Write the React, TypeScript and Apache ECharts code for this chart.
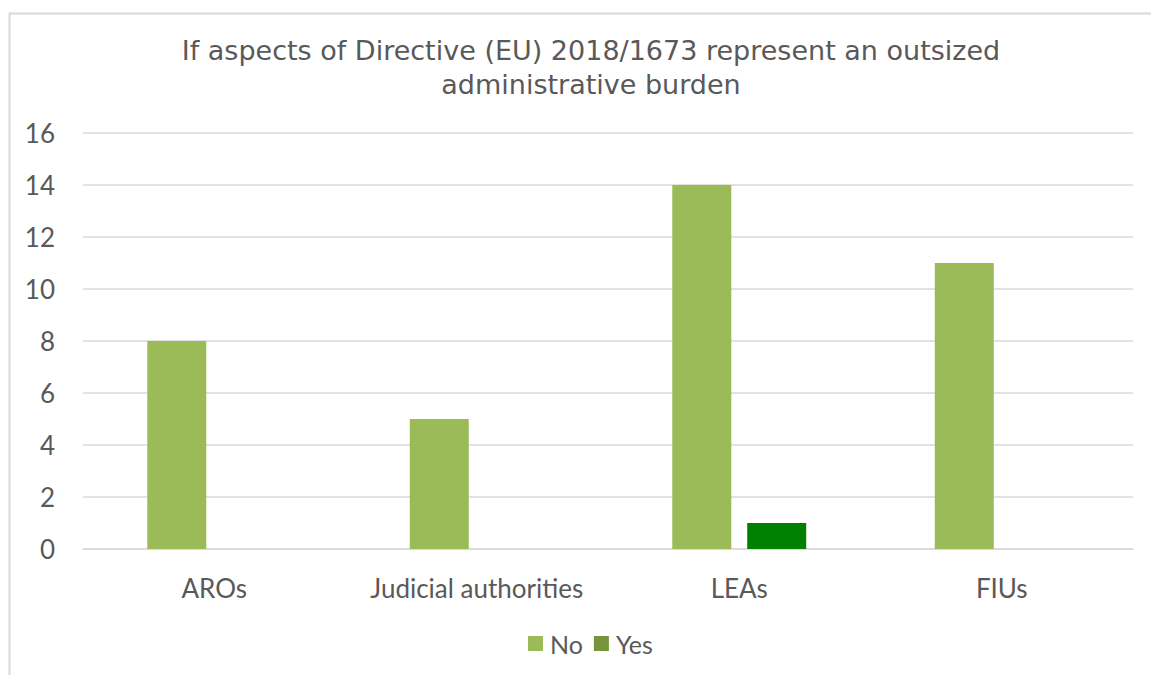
import React, { useEffect, useRef } from "react";
import * as echarts from "echarts";

const titleText = "If aspects of Directive (EU) 2018/1673 represent an outsized\nadministrative burden";
const categories = ["AROs", "Judicial authorities", "LEAs", "FIUs"];
const noValues = [8, 5, 14, 11];
const yesValues = [0, 0, 1, 0];
const yesBarColors = ["#008000", "#008000", "#008000", "#008000"];

export default function App() {
  const ref = useRef<HTMLDivElement>(null);
  useEffect(() => {
    if (!ref.current) return;
    const chart = echarts.init(ref.current, undefined, { renderer: "svg" });
    chart.setOption({
      animation: false,
      backgroundColor: "#ffffff",
      graphic: [
        {
          type: "rect",
          shape: { x: 9.5, y: 13.5, width: 1300, height: 800 },
          style: { fill: "none", stroke: "#D9D9D9", lineWidth: 2 },
          silent: true,
        },
      ],
      title: {
        text: titleText,
        left: 586,
        textAlign: "center",
        top: 28,
        textStyle: {
          fontFamily: "DejaVu Sans",
          fontSize: 27,
          fontWeight: "normal",
          color: "#595959",
          lineHeight: 34,
        },
      },
      legend: {
        bottom: 14,
        left: 523,
        itemWidth: 15,
        itemHeight: 15,
        itemGap: 11,
        icon: "rect",
        textStyle: { fontFamily: "Lato", fontSize: 25, color: "#595959", padding: [0, 0, 0, 2] },
        data: ["No", "Yes"],
      },
      grid: { left: 83, right: 18, top: 133, bottom: 126 },
      xAxis: {
        type: "category",
        data: categories,
        axisTick: { show: false },
        axisLine: { lineStyle: { color: "#D9D9D9", width: 1.5 } },
        axisLabel: {
          interval: 0,
          hideOverlap: false,
          fontFamily: "Lato",
          fontSize: 26,
          color: "#595959",
          margin: 26,
        },
      },
      yAxis: {
        type: "value",
        min: 0,
        max: 16,
        interval: 2,
        axisLine: { show: false },
        axisTick: { show: false },
        splitLine: { lineStyle: { color: "#D9D9D9", width: 1.5 } },
        axisLabel: { fontFamily: "Lato", fontSize: 26, color: "#595959", margin: 28 },
      },
      series: [
        {
          name: "No",
          type: "bar",
          data: noValues,
          barWidth: 59,
          barGap: "27%",
          itemStyle: { color: "#9BBB59" },
        },
        {
          name: "Yes",
          type: "bar",
          data: yesValues.map((v, i) => ({ value: v, itemStyle: { color: yesBarColors[i] } })),
          barWidth: 59,
          itemStyle: { color: "#77933C" },
        },
      ],
    });
    return () => chart.dispose();
  }, []);
  return (
    <div
      ref={ref}
      style={{ position: "fixed", left: 0, top: 0, width: 1151, height: 675 }}
    />
  );
}
